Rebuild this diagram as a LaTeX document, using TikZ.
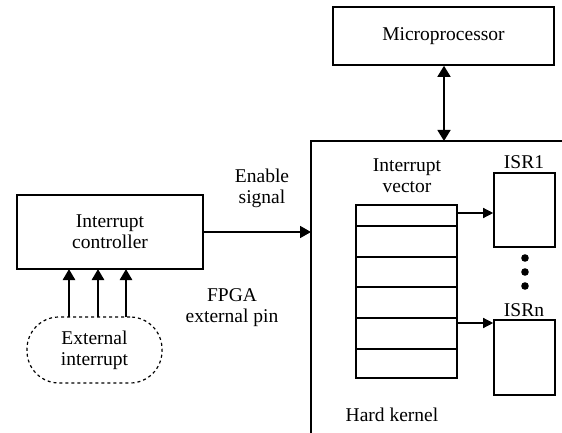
\documentclass[tikz,border=0pt]{standalone}
\usepackage{fontspec}
\setmainfont{Liberation Serif}
\usetikzlibrary{arrows.meta}
\begin{document}
\begin{tikzpicture}[x=1pt,y=-1pt,
  every node/.style={font=\fontsize{19.5}{21}\selectfont, inner sep=0pt, align=center},
  box/.style={draw, line width=1.6pt, minimum width=#1},
  row/.style={draw, line width=1.5pt, minimum width=101pt},
  bigtip/.style={-{Triangle[length=11pt,width=12pt]}},
  smalltip/.style={-{Triangle[length=10pt,width=10pt]}}]
\useasboundingbox (0,0) rectangle (562,433);
% Microprocessor
\node[box=221pt, minimum height=58pt] (mp) at (443.5,36) {Microprocessor};
% Hard kernel region
\coordinate (kTR) at (562,141);
\coordinate (kBL) at (311,433);
\coordinate (ktop) at (444,141);
\coordinate (kin) at (311,232);
\draw[line width=1.6pt] (kTR) -| (kBL);
\draw[line width=1.6pt, {Triangle[length=11pt,width=13pt]}-{Triangle[length=11pt,width=13pt]}] (mp.south -| ktop) -- (ktop);
% Interrupt controller
\node[box=186pt, minimum height=74pt] (ic) at (110,232) {Interrupt\\controller};
\draw[line width=1.6pt, bigtip] (ic.east) -- (kin);
\node (en) at (262,188) {Enable\\signal};
% External interrupt
\node[draw, dashed, line width=1.2pt, rounded corners=32pt, minimum width=135pt, minimum height=66pt] (ext) at (94.5,350) {External\\interrupt};
\foreach \xx [count=\i] in {69,98,126}{
  \draw[line width=2.6pt, bigtip] (\xx,317) -- (\xx,269);
}
\node (fpga) at (232,308) {FPGA\\external pin};
% Interrupt vector table
\node (ivl) at (407,176) {Interrupt\\vector};
\node[row, minimum height=21pt] (r1) at (406.5,215.5) {};
\node[row, minimum height=31pt] (r2) at (406.5,241.5) {};
\node[row, minimum height=30pt] (r3) at (406.5,272) {};
\node[row, minimum height=31pt] (r4) at (406.5,302.5) {};
\node[row, minimum height=31pt] (r5) at (406.5,333.5) {};
\node[row, minimum height=29pt] (r6) at (406.5,363.5) {};
% ISR boxes
\node[box=61pt, minimum height=74pt] (isr1) at (524.5,210) {};
\node[box=61pt, minimum height=75pt] (isrn) at (524.5,357.5) {};
\node (isr1l) at (524,162) {ISR1};
\node (isrnl) at (524,310) {ISRn};
\draw[line width=1.3pt, smalltip] (r1.east |- 0,213) -- (isr1.west |- 0,213);
\draw[line width=1.3pt, smalltip] (r5.east |- 0,323) -- (isrn.west |- 0,323);
\foreach \yy in {258,272,286}{ \fill (525,\yy) circle (3.8pt); }
\node (hk) at (392,415) {Hard kernel};
\end{tikzpicture}
\end{document}
